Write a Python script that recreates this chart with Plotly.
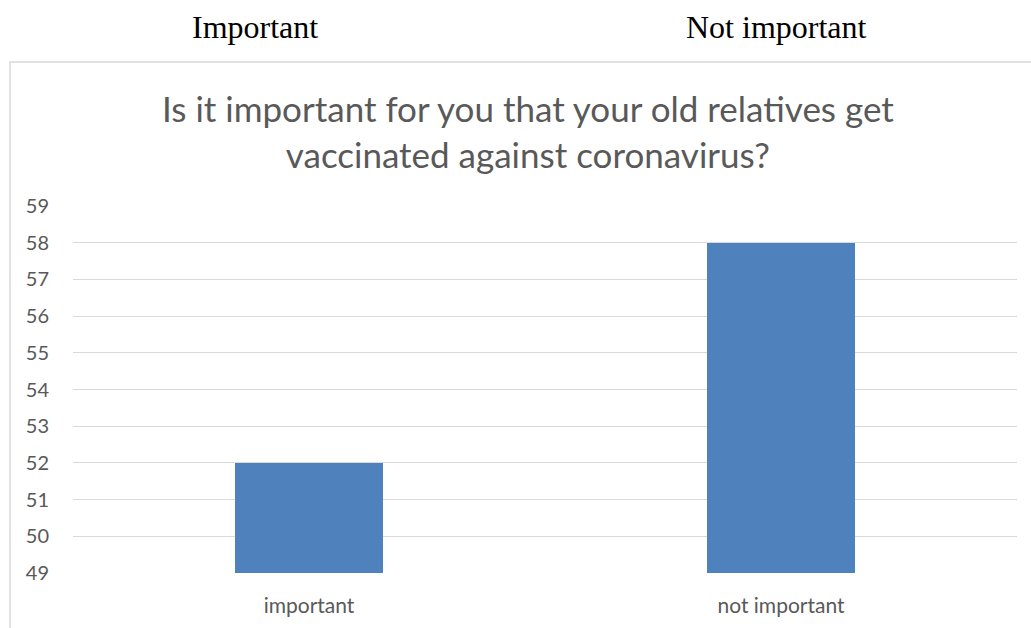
import plotly.graph_objects as go

categories = ["important", "not important"]
values = [52, 58]
y_ticks = list(range(49, 60))
top_labels = ["Important", "Not important"]
chart_title = "Is it important for you that your old relatives get<br>vaccinated against coronavirus?"

W, H = 1031, 628
L, R, T, B = 73, 1017, 206, 573  # plot area pixels


def px_x(x):
    return (x - L) / (R - L)


def px_y(y):
    return (B - y) / (B - T)


fig = go.Figure(go.Bar(
    x=categories, y=values, width=0.314,
    marker=dict(color="#4f81bd", line=dict(width=0)),
))

fig.update_layout(
    width=W, height=H,
    margin=dict(l=L, r=W - R, t=T, b=H - B),
    paper_bgcolor="white", plot_bgcolor="white",
    showlegend=False,
    font=dict(family="Lato", color="#595959"),
    bargap=0,
)
fig.update_xaxes(showgrid=False, showline=False, ticks="", tickfont=dict(size=21, color="#595959"),
                 range=[-0.5, 1.5], ticklabelstandoff=18)
fig.update_yaxes(range=[49, 59], tickvals=y_ticks, showgrid=True, gridcolor="#d9d9d9", gridwidth=1,
                 zeroline=False, showline=False, ticks="", tickfont=dict(size=20, color="#595959"),
                 ticklabelstandoff=23)

# chart box
fig.add_shape(type="rect", xref="paper", yref="paper",
              x0=px_x(10), x1=px_x(1040), y0=px_y(640), y1=px_y(62),
              line=dict(color="#d9d9d9", width=1.5), fillcolor="rgba(0,0,0,0)", layer="below")

# title
fig.add_annotation(text=chart_title, xref="paper", yref="paper", x=px_x(528), y=px_y(131),
                   showarrow=False, xanchor="center", yanchor="middle",
                   font=dict(family="Lato", size=35, color="#595959"))

for lbl, cx in zip(top_labels, [255, 776]):
    fig.add_annotation(text=lbl, xref="paper", yref="paper", x=px_x(cx), y=px_y(27),
                       showarrow=False, xanchor="center", yanchor="middle",
                       font=dict(family="Liberation Serif", size=32, color="black"))

fig.write_html("out.html")
